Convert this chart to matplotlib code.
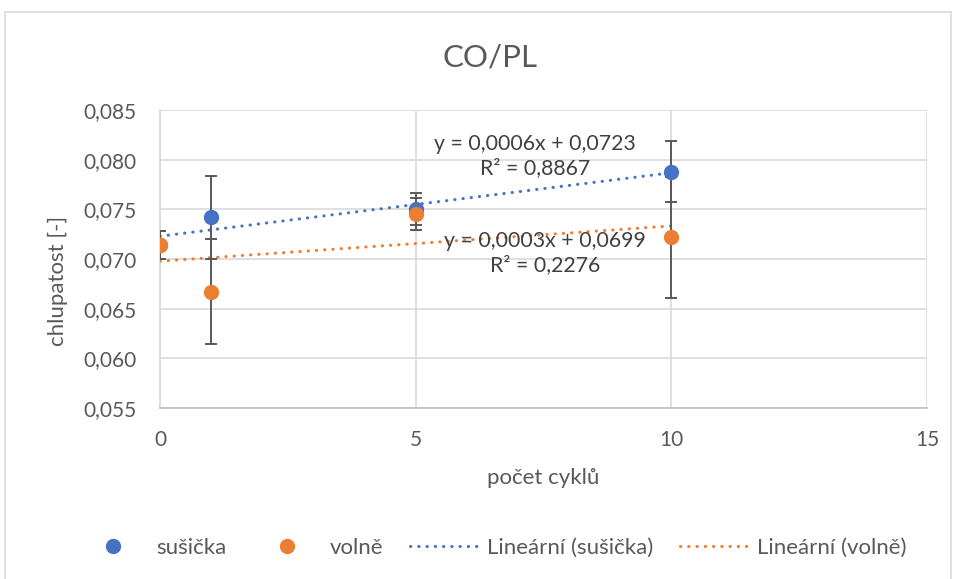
import matplotlib.pyplot as plt
import numpy as np
from matplotlib.lines import Line2D
from matplotlib.patches import Rectangle
from matplotlib.ticker import FuncFormatter, MultipleLocator

plt.rcParams['font.family'] = ['Lato', 'DejaVu Sans']

# data
cykly = [0, 1, 5, 10]
susicka = [0.0714, 0.0742, 0.0750, 0.0788]
susicka_err = [0.0014, 0.0042, 0.0016, 0.0031]
volne = [0.0714, 0.0667, 0.0745, 0.0722]
volne_err = [0.0014, 0.0053, 0.0016, 0.0061]
rovnice_susicka = 'y = 0,0006x + 0,0723\nR² = 0,8867'
rovnice_volne = 'y = 0,0003x + 0,0699\nR² = 0,2276'

modra = '#4472C4'
oranzova = '#ED7D31'
seda_text = '#595959'
mrizka = '#D9D9D9'
tecky = (0, (0.1, 2.6))

W, H = 954, 579
fig = plt.figure(figsize=(W / 100, H / 100), dpi=100)
fig.patches.append(Rectangle((5 / W, -0.05), 946 / W, (H - 12) / H + 0.05,
                             transform=fig.transFigure, fill=False,
                             edgecolor=mrizka, lw=1.2))

ax = fig.add_axes([160 / W, (H - 408) / H, 767 / W, 298 / H])

x = np.array(cykly)
xl = np.linspace(0, 10, 50)
# trend lines
for y, c in [(susicka, modra), (volne, oranzova)]:
    k, q = np.polyfit(x, np.array(y), 1)
    ax.plot(xl, k * xl + q, color=c, lw=2.2, ls=tecky,
            dash_capstyle='round', zorder=3)

# points with error bars
ax.errorbar(x, volne, yerr=volne_err, fmt='none', ecolor='#595959',
            elinewidth=1.4, capsize=4.5, capthick=1.4, zorder=4)
ax.errorbar(x, susicka, yerr=susicka_err, fmt='none', ecolor='#595959',
            elinewidth=1.4, capsize=4.5, capthick=1.4, zorder=4)
ax.plot(x, susicka, 'o', color=modra, ms=10, zorder=5)
ax.plot(x, volne, 'o', color=oranzova, ms=10, zorder=6)

ax.text(7.33, 0.08037, rovnice_susicka, ha='center', va='center',
        fontsize=15.3, color='#404040', linespacing=1.3, zorder=7)
ax.text(7.53, 0.0706, rovnice_volne, ha='center', va='center',
        fontsize=15.3, color='#404040', linespacing=1.3, zorder=7)

ax.set_xlim(0, 15)
ax.set_ylim(0.055, 0.085)
ax.xaxis.set_major_locator(MultipleLocator(5))
ax.yaxis.set_major_locator(MultipleLocator(0.005))
ax.yaxis.set_major_formatter(FuncFormatter(lambda v, p: f'{v:.3f}'.replace('.', ',')))
ax.grid(True, color=mrizka, lw=1.2, zorder=0)
ax.set_axisbelow(True)
for s in ['top', 'right']:
    ax.spines[s].set_visible(False)
ax.spines['left'].set_color(mrizka)
ax.spines['left'].set_linewidth(1.2)
ax.spines['bottom'].set_color('#BFBFBF')
ax.spines['bottom'].set_linewidth(1.2)
ax.tick_params(axis='y', length=0, labelsize=15, colors=seda_text, pad=17)
ax.tick_params(axis='x', length=0, labelsize=15, colors=seda_text, pad=16)

fig.text(490 / W, 1 - 58 / H, 'CO/PL', ha='center', va='center',
         fontsize=22.5, color=seda_text)
fig.text(543 / W, 1 - 478 / H, 'počet cyklů', ha='center', va='center',
         fontsize=16, color=seda_text)
fig.text(58 / W, 1 - 281 / H, 'chlupatost [-]', ha='center', va='center',
         rotation=90, fontsize=16, color=seda_text)

handles = [
    Line2D([], [], marker='o', ls='none', color=modra, ms=10),
    Line2D([], [], marker='o', ls='none', color=oranzova, ms=10),
    Line2D([], [], color=modra, lw=2.2, ls=tecky, dash_capstyle='round'),
    Line2D([], [], color=oranzova, lw=2.2, ls=tecky, dash_capstyle='round'),
]
labels = ['sušička', 'volně', 'Lineární (sušička)', 'Lineární (volně)']
leg = fig.legend(handles, labels, loc='center', bbox_to_anchor=(493 / W, (H - 548) / H),
                 ncol=4, frameon=False, fontsize=16, handlelength=3.0,
                 handletextpad=0.45, columnspacing=1.2)
for t in leg.get_texts():
    t.set_color(seda_text)

fig.savefig('out.png', dpi=100)
